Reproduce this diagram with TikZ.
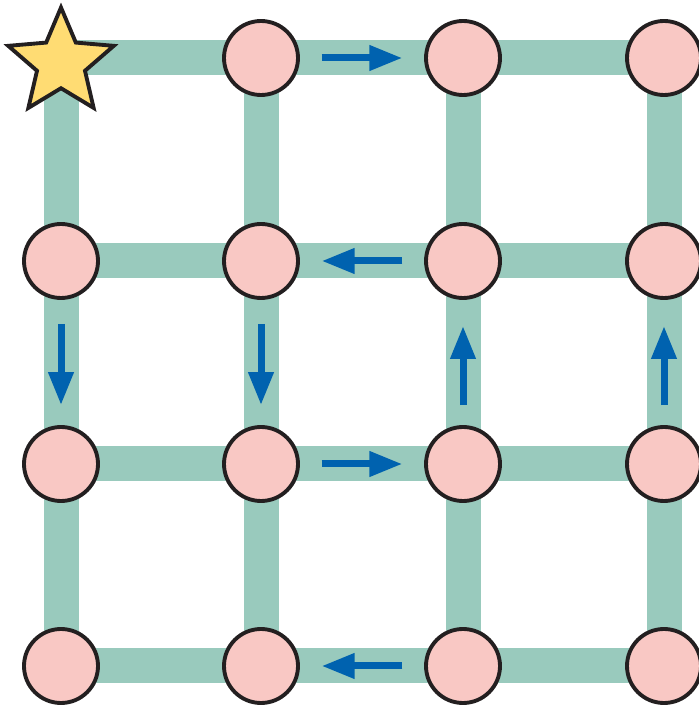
\documentclass[tikz,border=0pt]{standalone}
\usetikzlibrary{shapes.geometric, arrows.meta, calc}
\definecolor{roadgreen}{HTML}{99CABD}
\definecolor{cellpink}{HTML}{F9C8C4}
\definecolor{staryellow}{HTML}{FFDC73}
\definecolor{flowblue}{HTML}{0062AF}
\definecolor{outline}{HTML}{231F20}

\begin{document}
\begin{tikzpicture}[
    >={Triangle[length=3.3mm, width=2.4mm]},
    road/.style={roadgreen, line width=3.5mm},
    cell/.style={circle, draw=outline, fill=cellpink, line width=1.1pt, minimum size=7.4mm, inner sep=0pt},
    start/.style={star, star points=5, star point ratio=2.2, draw=outline, fill=staryellow, line width=1.1pt, minimum size=11.1mm, inner sep=0pt},
    flow/.style={->, flowblue, line width=0.7mm}
]
    \useasboundingbox (0,0) rectangle (6.99,7.07);

    % grid points
    \foreach \x [count=\i] in {0.61,2.61,4.63,6.64}
        \foreach \y [count=\j] in {6.49,4.46,2.43,0.41}
            \coordinate (p-\j-\i) at (\x,\y);

    % roads
    \foreach \j in {1,...,4}
        \draw[road] (p-\j-1) -- (p-\j-4);
    \foreach \i in {1,...,4}
        \draw[road] (p-1-\i) -- (p-4-\i);

    % stops
    \node[start, yshift=-0.05cm] (n-1-1) at (p-1-1) {};
    \foreach \j in {1,...,4}
        \foreach \i in {1,...,4} {
            \ifnum\j\i=11 \else
                \node[cell] (n-\j-\i) at (p-\j-\i) {};
            \fi
        }

    % route
    \draw[flow] ($(p-1-2)!0.30!(p-1-3)$) -- ($(p-1-2)!0.70!(p-1-3)$);
    \draw[flow] ($(p-2-2)!0.70!(p-2-3)$) -- ($(p-2-2)!0.30!(p-2-3)$);
    \draw[flow] ($(p-3-2)!0.30!(p-3-3)$) -- ($(p-3-2)!0.70!(p-3-3)$);
    \draw[flow] ($(p-4-2)!0.70!(p-4-3)$) -- ($(p-4-2)!0.30!(p-4-3)$);
    \draw[flow] ($(p-2-1)!0.31!(p-3-1)$) -- ($(p-2-1)!0.71!(p-3-1)$);
    \draw[flow] ($(p-2-2)!0.31!(p-3-2)$) -- ($(p-2-2)!0.71!(p-3-2)$);
    \draw[flow] ($(p-2-3)!0.71!(p-3-3)$) -- ($(p-2-3)!0.32!(p-3-3)$);
    \draw[flow] ($(p-2-4)!0.71!(p-3-4)$) -- ($(p-2-4)!0.32!(p-3-4)$);
\end{tikzpicture}
\end{document}
